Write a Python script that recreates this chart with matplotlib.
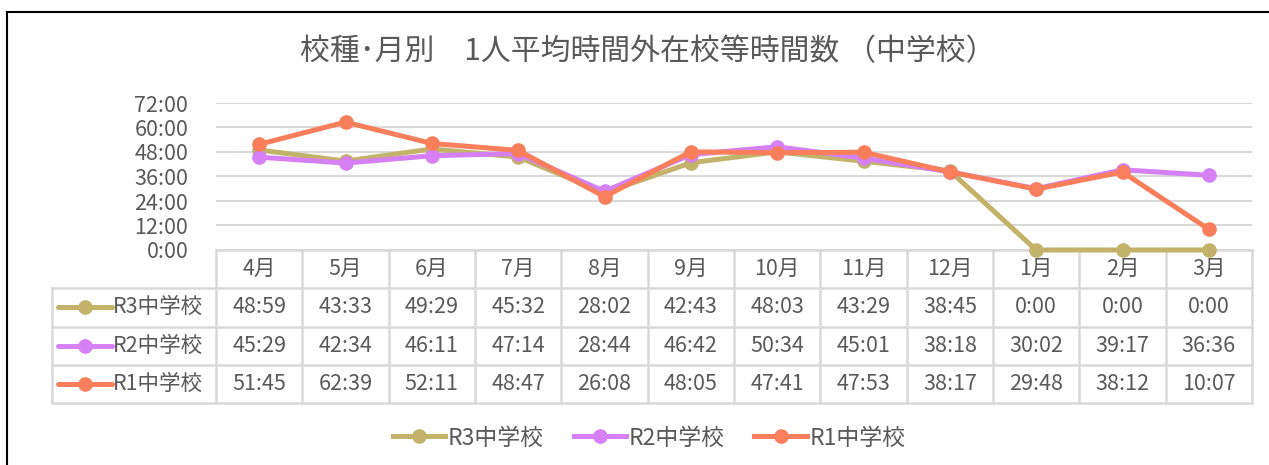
import matplotlib
matplotlib.use("Agg")
import matplotlib.pyplot as plt
from matplotlib.lines import Line2D

plt.rcParams['font.family'] = ['Noto Sans CJK JP', 'DejaVu Sans']

# データ
months = ['4月', '5月', '6月', '7月', '8月', '9月', '10月', '11月', '12月', '1月', '2月', '3月']
r3 = ['48:59', '43:33', '49:29', '45:32', '28:02', '42:43', '48:03', '43:29', '38:45', '0:00', '0:00', '0:00']
r2 = ['45:29', '42:34', '46:11', '47:14', '28:44', '46:42', '50:34', '45:01', '38:18', '30:02', '39:17', '36:36']
r1 = ['51:45', '62:39', '52:11', '48:47', '26:08', '48:05', '47:41', '47:53', '38:17', '29:48', '38:12', '10:07']
series_names = ['R3中学校', 'R2中学校', 'R1中学校']
colors = ['#C3B26A', '#D580F4', '#F97E5B']
title = '校種･月別　1人平均時間外在校等時間数 （中学校）'
yticks = [0, 12, 24, 36, 48, 60, 72]

series = [r3, r2, r1]


def to_hours(s):
    h, m = s.split(':')
    return int(h) + int(m) / 60


W, H = 1269, 465
fig = plt.figure(figsize=(W / 100, H / 100), dpi=100)
txt = '#595959'
grid = '#D9D9D9'
fs = 15.5


def rect(x0, y0, x1, y1):
    return [x0 / W, 1 - y1 / H, (x1 - x0) / W, (y1 - y0) / H]


# 外枠
fig.add_artist(Line2D([7 / W, 1], [1 - 12 / H, 1 - 12 / H], color='black', lw=1.5))
fig.add_artist(Line2D([7 / W, 7 / W], [0, 1 - 12 / H], color='black', lw=1.5))

fig.text(648 / W, 1 - 52 / H, title, ha='center', va='center', fontsize=21.5, color=txt)

# グラフ
ax = fig.add_axes(rect(216, 103, 1252, 250))
x = list(range(len(months)))
for vals, name, c in zip(series, series_names, colors):
    ax.plot(x, [to_hours(v) for v in vals], color=c, lw=3.6, marker='o', ms=9.5,
            solid_capstyle='round', label=name, zorder=3, clip_on=False)
ax.set_xlim(-0.5, len(months) - 0.5)
ax.set_ylim(0, 72)
ax.set_yticks(yticks)
ax.set_yticklabels([f'{t}:00' for t in yticks], fontsize=fs, color=txt)
ax.tick_params(axis='y', length=0, pad=20)
ax.set_xticks([])
ax.grid(axis='y', color=grid, lw=1.5)
for s in ['top', 'right', 'left', 'bottom']:
    ax.spines[s].set_visible(False)

# データテーブル
col_w = (1252 - 216) / 12
left_units = (216 - 52) / col_w
tax = fig.add_axes(rect(52, 250, 1252, 403))
xmin = -0.5 - left_units
tax.set_xlim(xmin, len(months) - 0.5)
tax.set_ylim(4, 0)
tax.axis('off')
lk = dict(color=grid, lw=1.8, clip_on=False, zorder=1)
tax.plot([-0.5, len(months) - 0.5], [0, 0], **lk)
for r in range(1, 5):
    tax.plot([xmin, len(months) - 0.5], [r, r], **lk)
for i in range(len(months) + 1):
    tax.plot([i - 0.5, i - 0.5], [0, 4], **lk)
tax.plot([xmin, xmin], [1, 4], **lk)
tax.set_zorder(0)
ax.set_zorder(1)
ax.patch.set_visible(False)

for i, m in enumerate(months):
    tax.text(i, 0.5, m, ha='center', va='center', fontsize=fs, color=txt)
for r, (vals, name, c) in enumerate(zip(series, series_names, colors), start=1):
    hx0 = xmin + 6 / col_w
    hx1 = xmin + 60 / col_w
    tax.plot([hx0, hx1], [r + 0.5, r + 0.5], color=c, lw=3.6, solid_capstyle='round')
    tax.plot([(hx0 + hx1) / 2], [r + 0.5], 'o', color=c, ms=9.5)
    tax.text(hx1 + 1 / col_w, r + 0.5, name, ha='left', va='center', fontsize=fs, color=txt)
    for i, v in enumerate(vals):
        tax.text(i, r + 0.5, v, ha='center', va='center', fontsize=fs, color=txt)

# 凡例
handles = [Line2D([], [], color=c, lw=3.6, marker='o', ms=9.5) for c in colors]
fig.legend(handles, series_names, loc='center', bbox_to_anchor=(649 / W, 1 - 438 / H),
           ncol=3, frameon=False, fontsize=16.5, labelcolor=txt, handlelength=2.3,
           handletextpad=0.1, columnspacing=1.3)

fig.savefig('out.png', dpi=100)
